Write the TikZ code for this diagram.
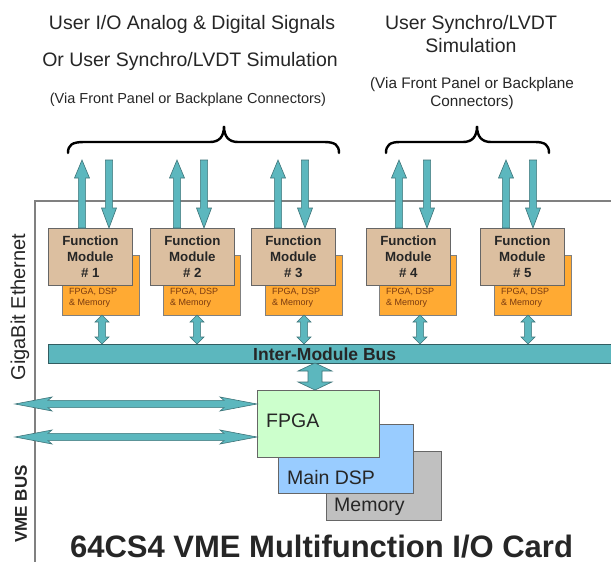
\documentclass[tikz,border=0pt]{standalone}
\usepackage{fontspec}
\setmainfont{Liberation Sans}
\usetikzlibrary{calc}
\definecolor{tealf}{HTML}{5CB7BE}
\definecolor{teald}{HTML}{3E7479}
\definecolor{tanf}{HTML}{DCBFA0}
\definecolor{orf}{HTML}{FFAA33}
\definecolor{greenf}{HTML}{CCFFCC}
\definecolor{bluef}{HTML}{99CCFF}
\definecolor{grayf}{HTML}{C0C0C0}
\definecolor{framec}{HTML}{808080}
\definecolor{smalltxt}{HTML}{7A3A10}
\tikzset{
  arr/.style={fill=tealf, draw=teald, line width=0.6pt, line join=miter},
  tanbox/.style={fill=tanf, draw=black!60, line width=0.7pt, inner sep=0pt, anchor=north west,
     font=\bfseries\fontsize{13.3}{16}\selectfont, align=center, text=black!85},
  orbox/.style={fill=orf, draw=black!50, line width=0.6pt, inner sep=0pt, anchor=north west},
  orlabel/.style={anchor=north west, inner sep=0pt, align=left, text=smalltxt,
     font=\fontsize{9}{11}\selectfont},
  chip/.style={draw=black!60, line width=0.7pt, inner sep=0pt, anchor=north west},
  chiplabel/.style={anchor=base west, inner sep=0pt, font=\fontsize{19.5}{22}\selectfont, text=black!85},
  bigtxt/.style={inner sep=0pt, anchor=base, font=\fontsize{19.5}{22}\selectfont, text=black!85},
  midtxt/.style={inner sep=0pt, anchor=base, font=\fontsize{14.5}{17}\selectfont, text=black!85},
  midtxtb/.style={inner sep=0pt, anchor=base, font=\fontsize{15.3}{17}\selectfont, text=black!85},
  brace/.style={draw=black, line width=2.4pt, line cap=round},
}
% vertical single block arrow: tail, tip, half shaft, half head, head length
\newcommand{\VArrow}[5]{%
  \path[arr] let \p1=(#1), \p2=(#2), \n1={sign(\y2-\y1)} in
  ({\x1-#3},\y1) -- ({\x1-#3},{\y2-\n1*#5}) -- ({\x1-#4},{\y2-\n1*#5}) -- (\x1,\y2)
  -- ({\x1+#4},{\y2-\n1*#5}) -- ({\x1+#3},{\y2-\n1*#5}) -- ({\x1+#3},\y1) -- cycle;}
% vertical double block arrow
\newcommand{\VDArrow}[5]{%
  \path[arr] let \p1=(#1), \p2=(#2), \n1={sign(\y2-\y1)} in
  (\x1,\y1) -- ({\x1+#4},{\y1+\n1*#5}) -- ({\x1+#3},{\y1+\n1*#5}) -- ({\x1+#3},{\y2-\n1*#5})
  -- ({\x1+#4},{\y2-\n1*#5}) -- (\x1,\y2) -- ({\x1-#4},{\y2-\n1*#5}) -- ({\x1-#3},{\y2-\n1*#5})
  -- ({\x1-#3},{\y1+\n1*#5}) -- ({\x1-#4},{\y1+\n1*#5}) -- cycle;}
% horizontal double block arrow
\newcommand{\HDArrow}[5]{%
  \path[arr] let \p1=(#1), \p2=(#2), \n1={sign(\x2-\x1)} in
  (\x1,\y1) -- ({\x1+\n1*#5},{\y1+#4}) -- ({\x1+\n1*(#5-4pt)},{\y1+#3}) -- ({\x2-\n1*(#5-4pt)},{\y1+#3})
  -- ({\x2-\n1*#5},{\y1+#4}) -- (\x2,\y1) -- ({\x2-\n1*#5},{\y1-#4}) -- ({\x2-\n1*(#5-4pt)},{\y1-#3})
  -- ({\x1+\n1*(#5-4pt)},{\y1-#3}) -- ({\x1+\n1*#5},{\y1-#4}) -- cycle;}
\begin{document}
\begin{tikzpicture}[x=1pt,y=-1pt]
\clip (0,0) rectangle (611,562);
\fill[white] (0,0) rectangle (611,562);

% card frame
\draw[framec, line width=1.2pt] (35,570) -- (35,201) -- (620,201);

% top texts
\node[bigtxt] (t1) at (192,30) {User I/O Analog \& Digital Signals};
\node[bigtxt] (t2) at (190,66.5) {Or User Synchro/LVDT Simulation};
\node[midtxt] (t3) at (188,103) {(Via Front Panel or Backplane Connectors)};
\node[bigtxt] (t4) at (471,30) {User Synchro/LVDT};
\node[bigtxt] (t5) at (471,52) {Simulation};
\node[midtxtb] (t6) at (472,88) {(Via Front Panel or Backplane};
\node[midtxtb] (t7) at (472,106) {Connectors)};

% braces
\draw[brace] (68,153) .. controls (68,145) and (72,142) .. (84,142) -- (210,142)
  .. controls (219,142) and (224,137) .. (224,126) .. controls (224,137) and (229,142) .. (238,142)
  -- (324,142) .. controls (335,142) and (339,145) .. (339,153);
\draw[brace] (386,153) .. controls (386,145) and (390,142) .. (400,142) -- (463,142)
  .. controls (472,142) and (477,137) .. (477,126) .. controls (477,137) and (482,142) .. (491,142)
  -- (535,142) .. controls (545,142) and (549,145) .. (549,153);

% function modules
\foreach \i/\tx/\ox in {1/48/62, 2/150/163, 3/251/265, 4/366/379, 5/480/494}{
  \node[orbox, minimum width=77pt, minimum height=60pt] (o\i) at (\ox,255) {};
  \node[orlabel] (ol\i) at ($(\ox,288)+(7,0)$) {FPGA, DSP\\\& Memory};
  \node[tanbox, minimum width=84pt, minimum height=57pt] (m\i) at (\tx,228) {Function\\Module\\\# \i};
}

% user I/O arrows
\foreach \i/\ux/\dx in {1/82/109, 2/177/204, 3/278/305, 4/399/427, 5/506/533}{
  \coordinate (u\i) at (\ux,160);
  \coordinate (d\i) at (\dx,160);
  \VArrow{u\i |- m\i.north}{u\i}{3.6pt}{7.5pt}{18pt}
  \VArrow{d\i}{d\i |- m\i.north}{3.6pt}{7.5pt}{20pt}
}

% inter-module bus
\node[fill=tealf, draw=teald!80!black, line width=0.8pt, anchor=north west, inner sep=0pt,
  minimum width=600pt, minimum height=19pt] (bus) at (48,344) {};
\node[anchor=base west, inner sep=0pt, font=\bfseries\fontsize{17.5}{20}\selectfont, text=black!85]
  (busl) at (253,360.5) {Inter-Module Bus};

% module-to-bus arrows
\foreach \i/\sx in {1/102, 2/197, 3/304, 4/420, 5/528}{
  \coordinate (s\i) at (\sx,315);
  \VDArrow{s\i}{s\i |- bus.north}{3.6pt}{7pt}{7pt}
}

% chips
\node[chip, fill=grayf, minimum width=115pt, minimum height=69pt] (mem) at (326,451) {};
\node[chip, fill=bluef, minimum width=135pt, minimum height=69pt] (dsp) at (278,424) {};
\node[chip, fill=greenf, minimum width=122pt, minimum height=67pt] (fpga) at (257,390) {};
\node[chiplabel] (fpgal) at (266,427) {FPGA};
\node[chiplabel] (dspl) at (287,484) {Main DSP};
\node[chiplabel] (meml) at (334,511) {Memory};

% bus to FPGA
\coordinate (bf) at (315,363);
\VDArrow{bf}{bf |- fpga.north}{7pt}{17pt}{8pt}

% VME arrows
\coordinate (v1) at (15,404);
\coordinate (v2) at (15,437);
\HDArrow{v1}{v1 -| fpga.west}{3.6pt}{7pt}{37pt}
\HDArrow{v2}{v2 -| fpga.west}{3.6pt}{7pt}{37pt}

% side labels
\node[rotate=90, inner sep=0pt, font=\fontsize{20}{22}\selectfont, text=black!85] (gbe) at (20,307) {GigaBit Ethernet};
\node[rotate=90, inner sep=0pt, font=\bfseries\fontsize{17}{20}\selectfont, text=black!85] (vme) at (21,504) {VME BUS};

% title
\node[anchor=base, inner sep=0pt, font=\bfseries\fontsize{31}{34}\selectfont, text=black!85] (title) at (321.5,557) {64CS4 VME Multifunction I/O Card};
\end{tikzpicture}
\end{document}
